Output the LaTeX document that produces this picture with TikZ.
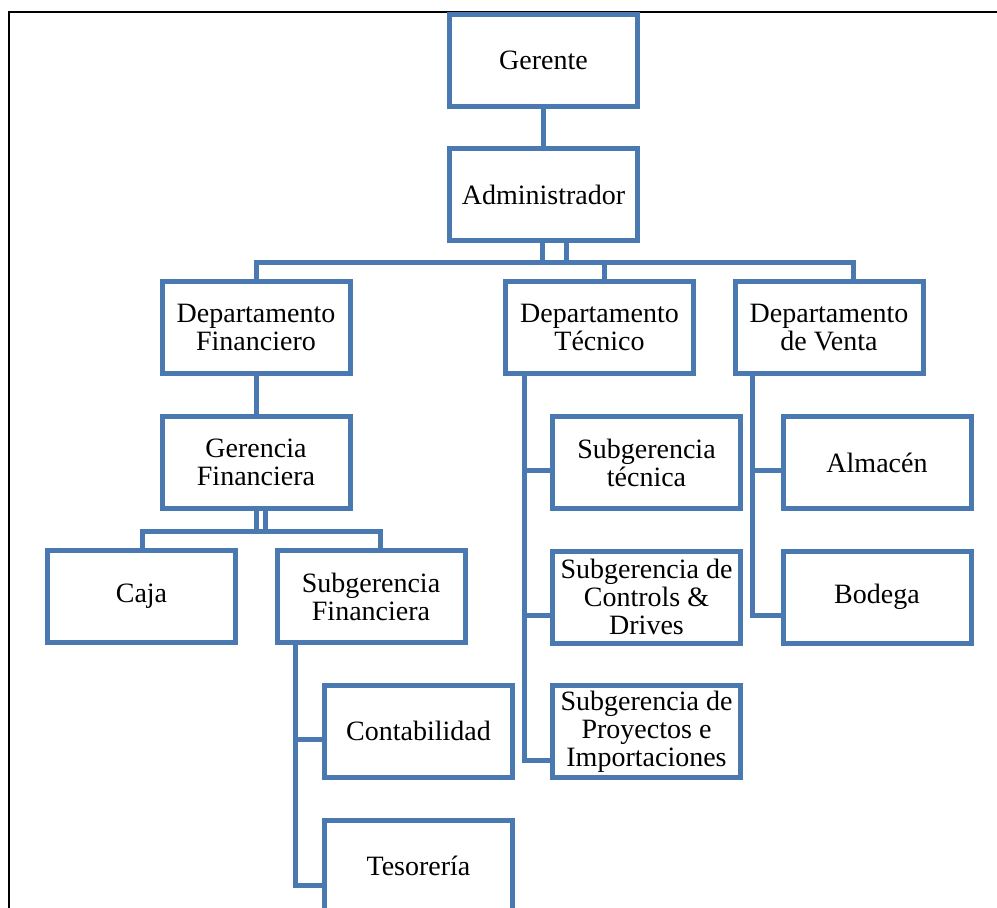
\documentclass[tikz,border=0pt]{standalone}
\usepackage{fontspec}
\setmainfont{Liberation Serif}
\usetikzlibrary{calc}
\definecolor{c0}{RGB}{74,120,176}
\tikzset{%
  box/.style={draw=c0,line width=5pt,fill=white,minimum width=188pt,
    minimum height=92pt,inner sep=1pt,align=center,
    font=\fontsize{28}{28}\selectfont},
  link/.style={draw=c0,line width=5pt,line cap=rect}
}
\begin{document}
\begin{tikzpicture}[x=1pt,y=-1pt]
  \useasboundingbox (0,0) rectangle (997,908);
  % Frame
  \draw[line width=1.6pt] (997,12) -- (9,12) -- (9,908);
  % Boxes
  \node[box] (g0) at (543.5,60.5) {Gerente};
  \node[box] (g1) at (543.5,194.5) {Administrador};
  \node[box] (d0) at (256,327) {Departamento\\Financiero};
  \node[box] (d1) at (599.5,327) {Departamento\\Técnico};
  \node[box] (d2) at (829,327.5) {Departamento\\de Venta};
  \node[box] (f0) at (256,462.5) {Gerencia\\Financiera};
  \node[box] (f1) at (141.5,596.5) {Caja};
  \node[box] (f2) at (371,596.5) {Subgerencia\\Financiera};
  \node[box] (f3) at (418.5,731) {Contabilidad};
  \node[box] (f4) at (418.5,866) {Tesorería};
  \node[box] (t0) at (646.5,462.5) {Subgerencia\\técnica};
  \node[box] (t1) at (646.5,597) {Subgerencia de\\Controls \&\\Drives};
  \node[box] (t2) at (646.5,731.5) {Subgerencia de\\Proyectos e\\Importaciones};
  \node[box] (v0) at (877,462.5) {Almacén};
  \node[box] (v1) at (877,597) {Bodega};
  % Top bus
  \draw[link] (g0) -- (g1);
  \coordinate (b0) at (256,262);
  \coordinate (b1) at (604,262);
  \coordinate (b2) at (853,262);
  \coordinate (a0) at (542,262);
  \coordinate (a1) at (566,262);
  \draw[link] (b0) -- (b2);
  \draw[link] (a0) -- (a0 |- g1.south);
  \draw[link] (a1) -- (a1 |- g1.south);
  \draw[link] (b0) -- (d0.north);
  \draw[link] (b1) -- (b1 |- d1.north);
  \draw[link] (b2) -- (b2 |- d2.north);
  % Financiero
  \draw[link] (d0) -- (f0);
  \coordinate (e0) at (142,531);
  \coordinate (e1) at (380,531);
  \coordinate (a2) at (256,531);
  \coordinate (a3) at (265,531);
  \draw[link] (e0) -- (e1);
  \draw[link] (a2) -- (a2 |- f0.south);
  \draw[link] (a3) -- (a3 |- f0.south);
  \draw[link] (e0) -- (e0 |- f1.north);
  \draw[link] (e1) -- (e1 |- f2.north);
  \coordinate (s0) at (295,0);
  \draw[link] (s0 |- f2.south) |- ([yshift=-8pt]f3.west);
  \draw[link] (s0 |- f2.south) |- ([yshift=-19pt]f4.west);
  % Tecnico
  \coordinate (s1) at (524,0);
  \draw[link] (s1 |- d1.south) |- ([yshift=-7.5pt]t0.west);
  \draw[link] (s1 |- d1.south) |- ([yshift=-18pt]t1.west);
  \draw[link] (s1 |- d1.south) |- ([yshift=-28.5pt]t2.west);
  % Venta
  \coordinate (s2) at (752.5,0);
  \draw[link] (s2 |- d2.south) |- ([yshift=-7.5pt]v0.west);
  \draw[link] (s2 |- d2.south) |- ([yshift=-18pt]v1.west);
\end{tikzpicture}
\end{document}
